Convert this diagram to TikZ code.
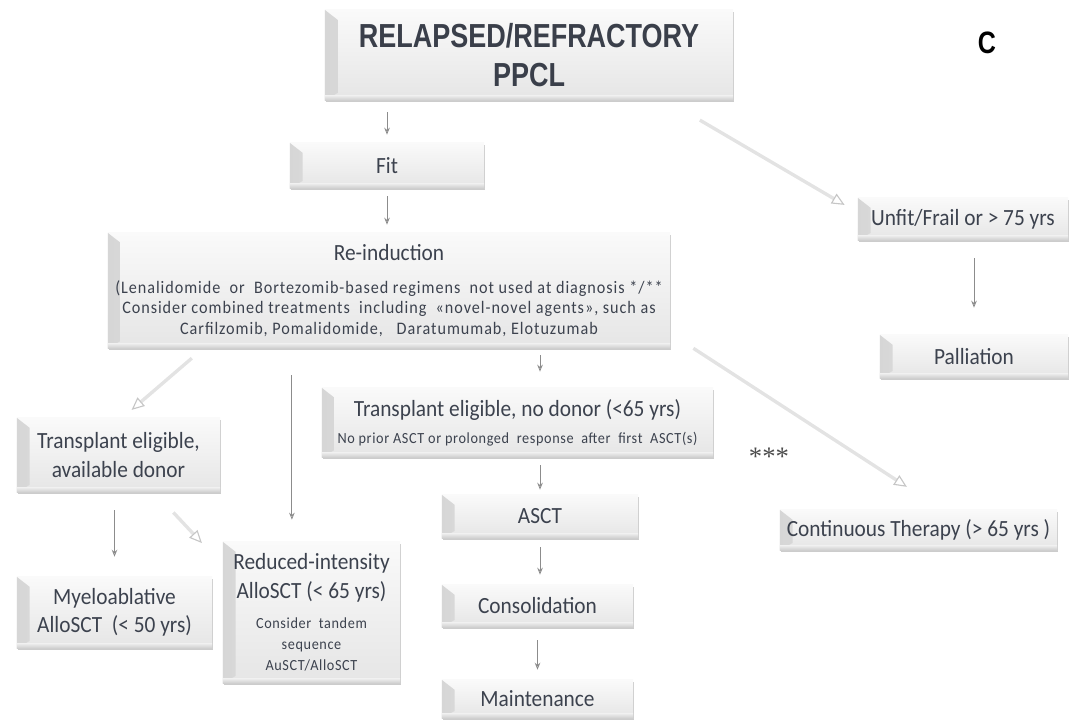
\documentclass[tikz,border=0pt]{standalone}
\usepackage{fontspec}
\setmainfont{Carlito}[FakeStretch=0.92]
\newfontfamily\titlefont{Liberation Sans}[FakeStretch=0.81]
\newfontfamily\starfont{Liberation Serif}
\usetikzlibrary{arrows.meta, shadows}
\definecolor{boxtext}{RGB}{60,66,78}
\definecolor{titletext}{RGB}{58,63,74}
\definecolor{arrowgray}{RGB}{140,140,140}
\newcommand{\smallnote}{\fontsize{11}{15}\selectfont\addfontfeature{LetterSpace=4}}
\newcommand{\drugnote}{\fontsize{12.5}{14.5}\selectfont\addfontfeature{LetterSpace=5.5}}
\tikzset{
	box/.style={shape=rectangle, draw=none, top color=gray!4, bottom color=gray!20,
		drop shadow={shadow xshift=0.6pt, shadow yshift=-1.6pt, opacity=0.4},
		text=boxtext, align=center, inner sep=2pt,
		font=\fontsize{16.5}{20}\selectfont,
		path picture={
			\shade[left color=gray!32, right color=gray!10]
				(path picture bounding box.north west) -- ([xshift=9pt,yshift=-7pt]path picture bounding box.north west)
				-- ([xshift=9pt,yshift=5pt]path picture bounding box.south west) -- (path picture bounding box.south west) -- cycle;
			\shade[top color=gray!15, bottom color=gray!38]
				([yshift=3pt]path picture bounding box.south west) rectangle (path picture bounding box.south east);
		}},
	label-text/.style={draw=none, fill=none},
	thinarr/.style={draw=arrowgray, line width=0.6pt, -{Stealth[open, length=5pt, width=4pt]}},
	widearr/.style={draw=gray!22, line width=2.4pt, -{Triangle[open, length=9pt, width=8pt, line width=0.8pt, color=gray!45]}},
}

\begin{document}
\begin{tikzpicture}[x=0.025cm, y=-0.025cm]
	\useasboundingbox (0,0) rectangle (1070,720);

	% boxes
	\node[box, minimum width=10.2cm, minimum height=2.25cm, text=titletext,
		font=\titlefont\bfseries\fontsize{23.7}{28}\selectfont] (relapsed) at (529,55) {RELAPSED/REFRACTORY\\PPCL};
	\node[box, minimum width=4.85cm, minimum height=1.125cm] (fit) at (387,165.5) {Fit};
	\node[box, minimum width=14.05cm, minimum height=2.875cm] (reinduction) at (389,290.5)
		{Re-induction\\[3.4pt]\drugnote (Lenalidomide\ \ or\ \ Bortezomib-based\ regimens\ \ not used at diagnosis */**\\[-5.6pt]
		\drugnote Consider combined treatments\ \ including\ \ «novel-novel agents», such as\\[-5.6pt]
		\drugnote Carfilzomib,\ Pomalidomide,\ \ \ Daratumumab,\ Elotuzumab};
	\node[box, minimum width=5.25cm, minimum height=1.05cm] (unfit) at (963,219) {Unfit/Frail or > 75 yrs};
	\node[box, minimum width=4.7cm, minimum height=1.075cm] (palliation) at (974,356.5) {Palliation};
	\node[box, minimum width=9.775cm, minimum height=1.725cm] (nodonor) at (517.5,422.5)
		{Transplant eligible, no donor (<65 yrs)\\[-1pt]\smallnote No prior ASCT or prolonged\ \ response\ \ after\ \ first\ \ ASCT(s)};
	\node[box, minimum width=5.075cm, minimum height=1.85cm] (donor) at (118.5,455) {Transplant eligible,\\available donor};
	\node[box, minimum width=4.875cm, minimum height=1.775cm] (myelo) at (114.5,612.5) {Myeloablative\\AlloSCT\ \ (< 50 yrs)};
	\node[box, minimum width=4.425cm, minimum height=3.525cm] (reduced) at (311.5,612.5)
		{Reduced-intensity\\AlloSCT (< 65 yrs)\\[1.5pt]\smallnote Consider\ \ tandem\\[-5pt]\smallnote sequence\\[-5pt]\smallnote AuSCT/AlloSCT};
	\node[box, minimum width=4.9cm, minimum height=1.075cm] (asct) at (540,516.5) {ASCT};
	\node[box, minimum width=4.775cm, minimum height=1.05cm] (consolidation) at (537.5,606) {Consolidation};
	\node[box, minimum width=4.775cm, minimum height=0.95cm] (maintenance) at (537.5,699) {Maintenance};
	\node[box, minimum width=6.925cm, minimum height=1.0cm] (continuous) at (918.5,530) {Continuous Therapy (> 65 yrs )};

	\node[label-text, text=gray!60!black, font=\starfont\fontsize{19}{19}\selectfont] (stars) at (769,457) {***};
	\node[label-text, font=\titlefont\bfseries\fontsize{22}{22}\selectfont] (panel) at (987,43) {C};

	% arrows
	\draw[thinarr, shorten <=0.3cm, shorten >=0.2cm] (relapsed.south -| fit.north) -- (fit.north);
	\draw[thinarr, shorten <=0.2cm, shorten >=0.2cm] (fit.south) -- (reinduction.north -| fit.south);
	\draw[widearr, shorten <=0.98cm, shorten >=0.38cm] ([xshift=3.425cm]relapsed.south) -- ([yshift=0.16cm]unfit.west);
	\draw[thinarr, shorten <=0.45cm, shorten >=0.675cm] (unfit.south -| palliation.north) -- (palliation.north);
	\draw[widearr, shorten <=0.38cm, shorten >=0.3cm] ([xshift=-4.64cm]reinduction.south) -- ([xshift=0.1cm]donor.north);
	\coordinate (reducedtop) at ([xshift=-0.49cm]reduced.north);
	\draw[thinarr, shorten <=0.675cm, shorten >=0.55cm] (reinduction.south -| reducedtop) -- (reducedtop);
	\draw[thinarr, shorten <=0.175cm, shorten >=0.4cm] (reinduction.south -| asct.north) -- (nodonor.north -| asct.north);
	\draw[thinarr, shorten <=0.2cm, shorten >=0.125cm] (nodonor.south -| asct.north) -- (asct.north);
	\draw[thinarr, shorten <=0.225cm, shorten >=0.25cm] (asct.south) -- (consolidation.north -| asct.south);
	\draw[thinarr, shorten <=0.325cm, shorten >=0.25cm] (consolidation.south) -- (maintenance.north);
	\draw[thinarr, shorten <=0.45cm, shorten >=0.5cm] (donor.south -| myelo.north) -- (myelo.north);
	\draw[widearr, shorten <=0.69cm, shorten >=0.76cm] ([xshift=0.9cm]donor.south) -- ([yshift=1.18cm]reduced.west);
	\draw[widearr, shorten >=1.05cm] ([xshift=0.575cm]reinduction.south east) -- ([xshift=0.59cm]continuous.north);
\end{tikzpicture}
\end{document}
